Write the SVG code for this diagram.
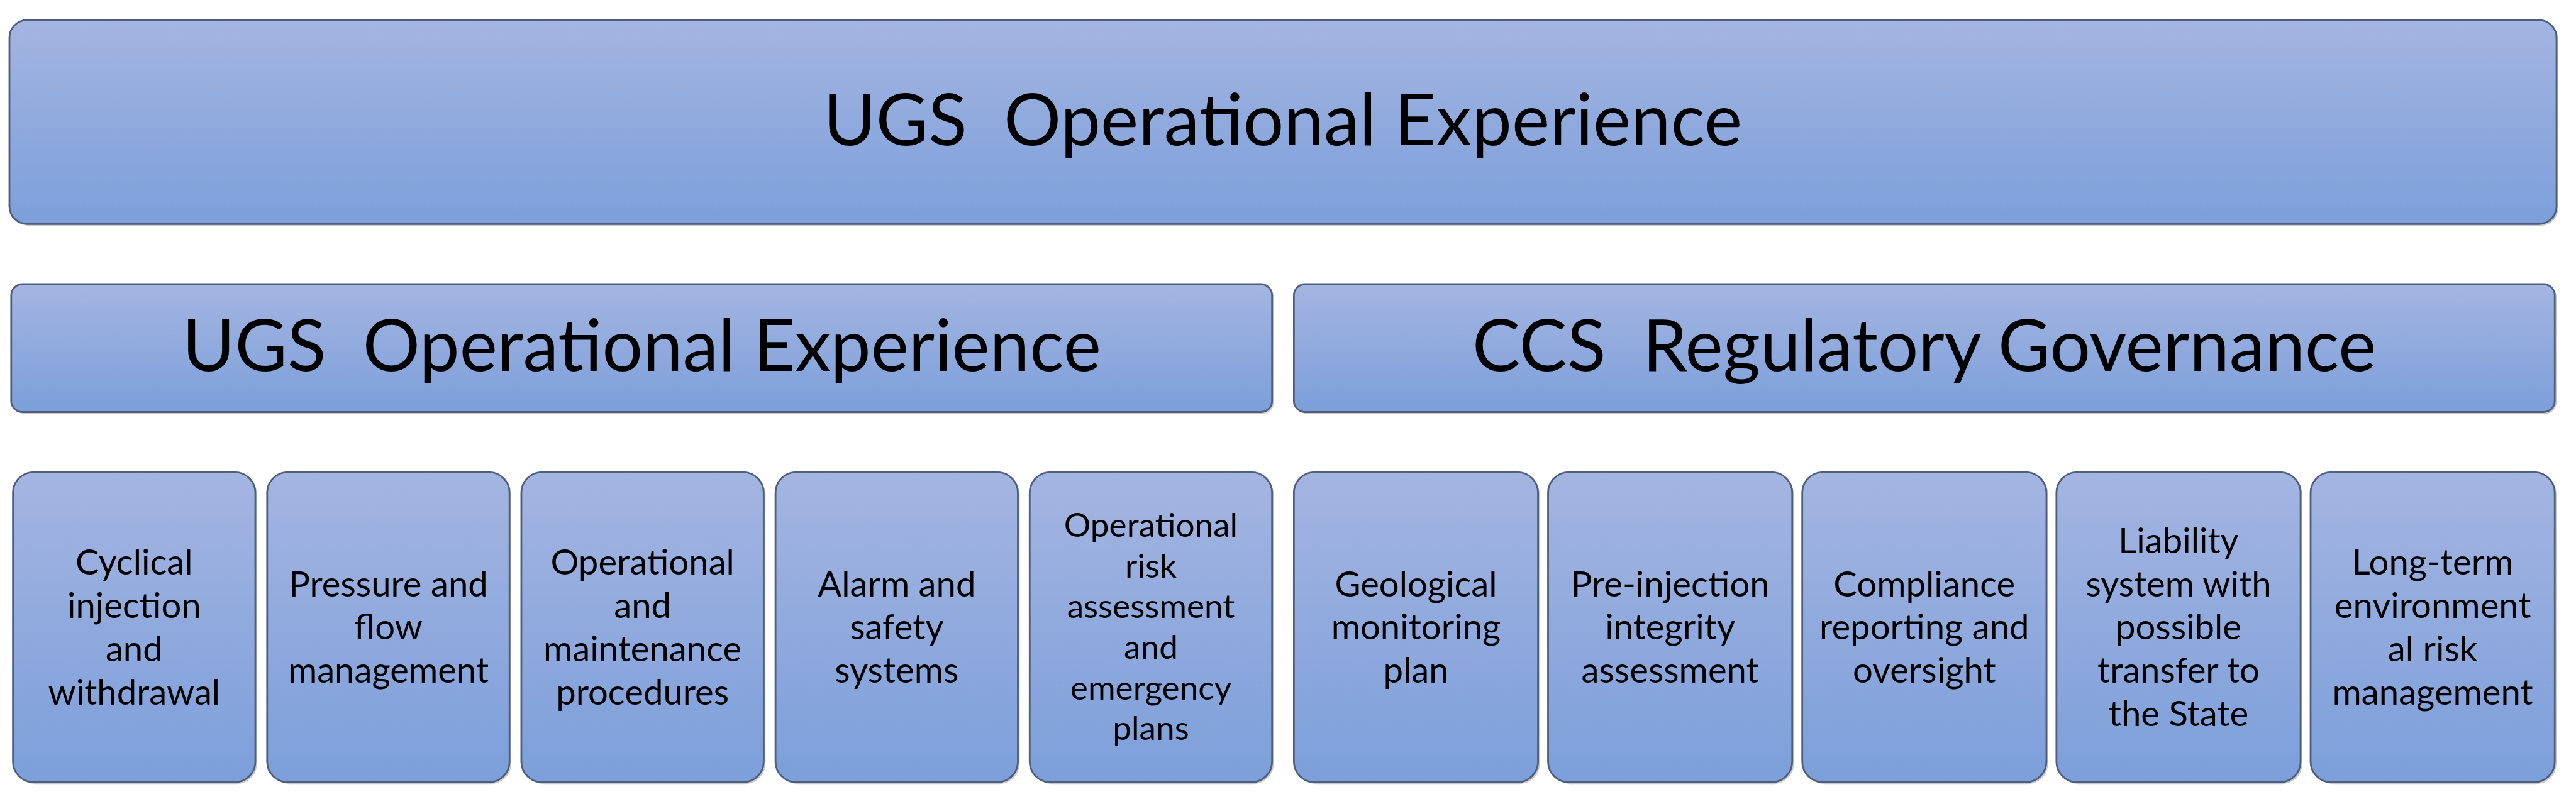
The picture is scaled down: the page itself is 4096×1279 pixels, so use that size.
<svg xmlns="http://www.w3.org/2000/svg" width="4096" height="1279" viewBox="0 0 4096 1279">
  <defs>
    <linearGradient id="fill" x1="0" y1="0" x2="0" y2="1">
      <stop offset="0" stop-color="#A4B5E1"/>
      <stop offset="1" stop-color="#7C9FDA"/>
    </linearGradient>
    <style>
      .box { fill: url(#fill); stroke: #4E5E7C; stroke-width: 3; }
      .shadow { fill: #9A9A9A; opacity: 0.55; }
      text { font-family: Lato, "Open Sans", "Liberation Sans", sans-serif; fill: #000; text-anchor: middle; }
      .t { font-size: 121.5px; }
      .b { font-size: 60px; }
      .b5 { font-size: 56.7px; }
    </style>
  </defs>
  <rect width="4096" height="1279" fill="#FFFFFF"/>
  <g transform="scale(0.937729)">
    <g id="top-ugs">
      <rect class="shadow" x="19" y="37" width="4319" height="346" rx="30"/>
      <rect class="box" x="16" y="34" width="4319" height="346" rx="30"/>
      <text class="t" x="2175" y="246" xml:space="preserve">UGS  Operational Experience</text>
    </g>
    <g id="mid-ugs">
      <rect class="shadow" x="22" y="485" width="2138" height="217" rx="19"/>
      <rect class="box" x="19" y="482" width="2138" height="217" rx="19"/>
      <text class="t" x="1088" y="629" xml:space="preserve">UGS  Operational Experience</text>
    </g>
    <g id="mid-ccs">
      <rect class="shadow" x="2197" y="485" width="2138" height="217" rx="19"/>
      <rect class="box" x="2194" y="482" width="2138" height="217" rx="19"/>
      <text class="t" x="3263" y="629" xml:space="preserve">CCS  Regulatory Governance</text>
    </g>
    <g id="b1">
      <rect class="shadow" x="25" y="804" width="411" height="526" rx="35"/>
      <rect class="box" x="22" y="801" width="411" height="526" rx="35"/>
      <text class="b"><tspan x="227.5" y="974.75">Cyclical</tspan><tspan x="227.5" y="1048.25">injection</tspan><tspan x="227.5" y="1121.75">and</tspan><tspan x="227.5" y="1195.25">withdrawal</tspan></text>
    </g>
    <g id="b2">
      <rect class="shadow" x="456" y="804" width="411" height="526" rx="35"/>
      <rect class="box" x="453" y="801" width="411" height="526" rx="35"/>
      <text class="b"><tspan x="658.5" y="1011.5">Pressure and</tspan><tspan x="658.5" y="1085">flow</tspan><tspan x="658.5" y="1158.5">management</tspan></text>
    </g>
    <g id="b3">
      <rect class="shadow" x="887" y="804" width="411" height="526" rx="35"/>
      <rect class="box" x="884" y="801" width="411" height="526" rx="35"/>
      <text class="b"><tspan x="1089.5" y="974.75">Operational</tspan><tspan x="1089.5" y="1048.25">and</tspan><tspan x="1089.5" y="1121.75">maintenance</tspan><tspan x="1089.5" y="1195.25">procedures</tspan></text>
    </g>
    <g id="b4">
      <rect class="shadow" x="1318" y="804" width="411" height="526" rx="35"/>
      <rect class="box" x="1315" y="801" width="411" height="526" rx="35"/>
      <text class="b"><tspan x="1520.5" y="1011.5">Alarm and</tspan><tspan x="1520.5" y="1085">safety</tspan><tspan x="1520.5" y="1158.5">systems</tspan></text>
    </g>
    <g id="b5">
      <rect class="shadow" x="1749" y="804" width="411" height="526" rx="35"/>
      <rect class="box" x="1746" y="801" width="411" height="526" rx="35"/>
      <text class="b5"><tspan x="1951.5" y="910.5">Operational</tspan><tspan x="1951.5" y="979.5">risk</tspan><tspan x="1951.5" y="1048.5">assessment</tspan><tspan x="1951.5" y="1117.5">and</tspan><tspan x="1951.5" y="1186.5">emergency</tspan><tspan x="1951.5" y="1255.5">plans</tspan></text>
    </g>
    <g id="b6">
      <rect class="shadow" x="2197" y="804" width="414" height="526" rx="35"/>
      <rect class="box" x="2194" y="801" width="414" height="526" rx="35"/>
      <text class="b"><tspan x="2401" y="1011.5">Geological</tspan><tspan x="2401" y="1085">monitoring</tspan><tspan x="2401" y="1158.5">plan</tspan></text>
    </g>
    <g id="b7">
      <rect class="shadow" x="2628" y="804" width="414" height="526" rx="35"/>
      <rect class="box" x="2625" y="801" width="414" height="526" rx="35"/>
      <text class="b"><tspan x="2832" y="1011.5">Pre-injection</tspan><tspan x="2832" y="1085">integrity</tspan><tspan x="2832" y="1158.5">assessment</tspan></text>
    </g>
    <g id="b8">
      <rect class="shadow" x="3059" y="804" width="414" height="526" rx="35"/>
      <rect class="box" x="3056" y="801" width="414" height="526" rx="35"/>
      <text class="b"><tspan x="3263" y="1011.5">Compliance</tspan><tspan x="3263" y="1085">reporting and</tspan><tspan x="3263" y="1158.5">oversight</tspan></text>
    </g>
    <g id="b9">
      <rect class="shadow" x="3490" y="804" width="414" height="526" rx="35"/>
      <rect class="box" x="3487" y="801" width="414" height="526" rx="35"/>
      <text class="b"><tspan x="3694" y="938">Liability</tspan><tspan x="3694" y="1011.5">system with</tspan><tspan x="3694" y="1085">possible</tspan><tspan x="3694" y="1158.5">transfer to</tspan><tspan x="3694" y="1232">the State</tspan></text>
    </g>
    <g id="b10">
      <rect class="shadow" x="3921" y="804" width="414" height="526" rx="35"/>
      <rect class="box" x="3918" y="801" width="414" height="526" rx="35"/>
      <text class="b"><tspan x="4125" y="974.75">Long-term</tspan><tspan x="4125" y="1048.25">environment</tspan><tspan x="4125" y="1121.75">al risk</tspan><tspan x="4125" y="1195.25">management</tspan></text>
    </g>
    <g id="connectors"/>
  </g>
</svg>
